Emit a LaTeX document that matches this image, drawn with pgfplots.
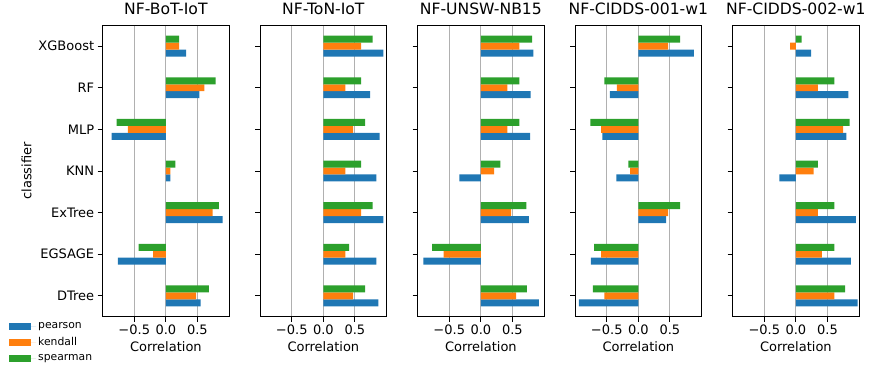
\documentclass[border=0pt]{standalone}
\usepackage{pgfplots}
\pgfplotsset{compat=1.18}
\usepackage{pgfplotstable}
\usepackage{fontspec}
\setmainfont{DejaVu Sans}
\definecolor{cp}{HTML}{1F77B4}
\definecolor{ck}{HTML}{FF7F0E}
\definecolor{cs}{HTML}{2CA02C}
\definecolor{gridc}{HTML}{B0B0B0}

% y: 0 DTree, 1 EGSAGE, 2 ExTree, 3 KNN, 4 MLP, 5 RF, 6 XGBoost
\pgfplotstableread{
y p k s
0 0.55 0.48 0.68
1 -0.76 -0.20 -0.43
2 0.90 0.74 0.84
3 0.07 0.07 0.15
4 -0.86 -0.60 -0.78
5 0.53 0.61 0.79
6 0.32 0.21 0.21
}\tA
\pgfplotstableread{
y p k s
0 0.87 0.47 0.66
1 0.84 0.35 0.41
2 0.95 0.60 0.78
3 0.84 0.35 0.60
4 0.89 0.47 0.66
5 0.74 0.35 0.60
6 0.95 0.60 0.78
}\tB
\pgfplotstableread{
y p k s
0 0.92 0.56 0.73
1 -0.91 -0.59 -0.77
2 0.76 0.48 0.72
3 -0.34 0.21 0.31
4 0.78 0.42 0.61
5 0.79 0.42 0.61
6 0.83 0.61 0.81
}\tC
\pgfplotstableread{
y p k s
0 -0.94 -0.54 -0.72
1 -0.75 -0.59 -0.70
2 0.44 0.47 0.66
3 -0.35 -0.13 -0.16
4 -0.57 -0.59 -0.76
5 -0.45 -0.34 -0.54
6 0.88 0.47 0.66
}\tD
\pgfplotstableread{
y p k s
0 0.98 0.61 0.78
1 0.87 0.41 0.61
2 0.95 0.35 0.61
3 -0.26 0.28 0.35
4 0.80 0.75 0.85
5 0.83 0.35 0.61
6 0.24 -0.09 0.09
}\tE

\pgfplotsset{
  panel/.style={
    xbar, scale only axis, width=126.3pt, height=291.4pt, anchor=south west,
    xmin=-1, xmax=1, ymin=-0.5, ymax=6.5,
    xtick={-0.5,0,0.5}, xticklabels={−0.5,0.0,0.5},
    ytick={0,1,2,3,4,5,6}, yticklabels={},
    xmajorgrids, major grid style={gridc, line width=1pt},
    tick align=outside, tick pos=left,
    major tick length=5pt, tick style={black, line width=0.9pt},
    axis line style={black, line width=1pt},
    tick label style={font=\fontsize{13}{15}\selectfont},
    label style={font=\fontsize{13}{15}\selectfont},
    title style={font=\fontsize{15.6}{18}\selectfont, yshift=1.5pt},
    xlabel={Correlation},
  },
  pp/.style={fill=cp, draw=none, bar width=0.1667, bar shift=-0.1667,
    legend image code/.code={\fill[cp] (0pt,-3.5pt) rectangle (22pt,3.5pt); \path (22pt,0pt) -- (27pt,0pt);}},
  pk/.style={fill=ck, draw=none, bar width=0.1667, bar shift=0,
    legend image code/.code={\fill[ck] (0pt,-3.5pt) rectangle (22pt,3.5pt); \path (22pt,0pt) -- (27pt,0pt);}},
  ps/.style={fill=cs, draw=none, bar width=0.1667, bar shift=0.1667,
    legend image code/.code={\fill[cs] (0pt,-3.5pt) rectangle (22pt,3.5pt); \path (22pt,0pt) -- (27pt,0pt);}},
}

\begin{document}
\begin{tikzpicture}
\path[use as bounding box] (0pt,0pt) rectangle (870pt,368pt);

\begin{axis}[panel, at={(102.7pt,51.3pt)}, title={NF-BoT-IoT},
  yticklabels={DTree,EGSAGE,ExTree,KNN,MLP,RF,XGBoost}, ylabel={classifier},
  legend style={draw=none, fill=none, at={(-0.75,-0.009)}, anchor=north west,
    font=\fontsize{10.8}{12}\selectfont, row sep=3.3pt, inner sep=1pt},
  legend cell align=left]
\addplot[pp] table[x=p,y=y]{\tA};
\addplot[pk] table[x=k,y=y]{\tA};
\addplot[ps] table[x=s,y=y]{\tA};
\legend{pearson,kendall,spearman}
\end{axis}

\begin{axis}[panel, at={(260.2pt,51.3pt)}, title={NF-ToN-IoT}]
\addplot[pp] table[x=p,y=y]{\tB};
\addplot[pk] table[x=k,y=y]{\tB};
\addplot[ps] table[x=s,y=y]{\tB};
\end{axis}

\begin{axis}[panel, at={(417.7pt,51.3pt)}, title={NF-UNSW-NB15}]
\addplot[pp] table[x=p,y=y]{\tC};
\addplot[pk] table[x=k,y=y]{\tC};
\addplot[ps] table[x=s,y=y]{\tC};
\end{axis}

\begin{axis}[panel, at={(575.2pt,51.3pt)}, title={NF-CIDDS-001-w1}]
\addplot[pp] table[x=p,y=y]{\tD};
\addplot[pk] table[x=k,y=y]{\tD};
\addplot[ps] table[x=s,y=y]{\tD};
\end{axis}

\begin{axis}[panel, at={(732.7pt,51.3pt)}, title={NF-CIDDS-002-w1}]
\addplot[pp] table[x=p,y=y]{\tE};
\addplot[pk] table[x=k,y=y]{\tE};
\addplot[ps] table[x=s,y=y]{\tE};
\end{axis}
\end{tikzpicture}
\end{document}
